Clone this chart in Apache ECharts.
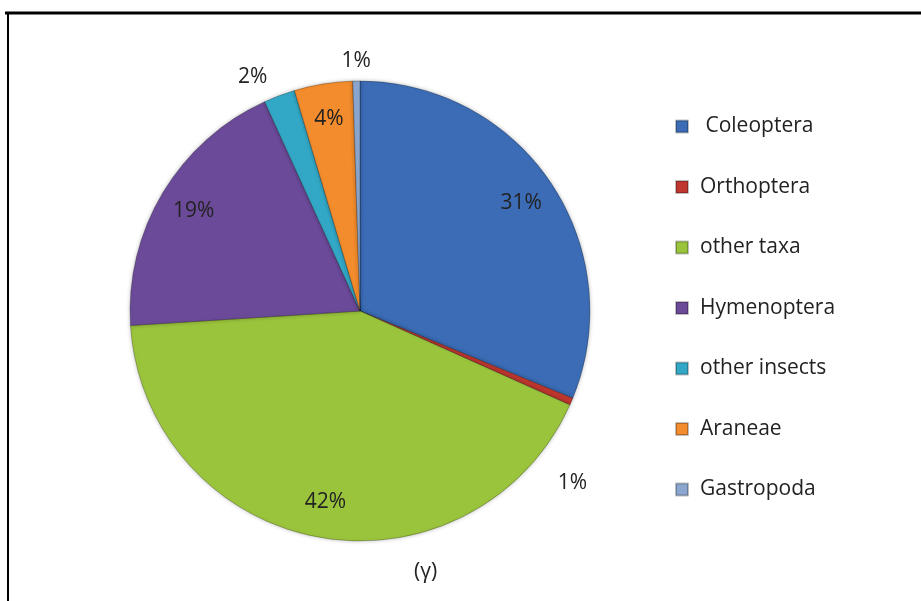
<!DOCTYPE html>
<html>
<head>
<meta charset="utf-8">
<script src="https://cdn.jsdelivr.net/npm/echarts@6/dist/echarts.min.js"></script>
<style>
  html, body { margin: 0; padding: 0; background: #fff; }
  #chart { width: 921px; height: 601px; }
</style>
</head>
<body>
<div id="chart"></div>
<script>
// share of each group, %
const categories = [' Coleoptera', 'Orthoptera', 'other taxa', 'Hymenoptera', 'other insects', 'Araneae', 'Gastropoda']
const shares = [31.2, 0.5, 42.3, 19.2, 2.2, 4.1, 0.5]
const colors = ['#3b6cb5', '#c0372f', '#9bc43d', '#6b4a99', '#33a8c6', '#f28c2c', '#8ba7cf']
// small slices get their label outside the pie
const outsideLabels = ['Orthoptera', 'other insects', 'Gastropoda']
const caption = '(γ)'

const FONT = 'Open Sans'
const pct = (p) => Math.round(p.percent) + '%'

const mainData = categories.map((name, i) => ({
  name,
  value: shares[i],
  itemStyle: { color: colors[i] },
  label: { show: outsideLabels.includes(name) }
}))

const labelData = categories.map((name, i) => ({
  name,
  value: shares[i],
  label: { show: !outsideLabels.includes(name) }
}))

const chart = echarts.init(document.getElementById('chart'))

chart.setOption({
  backgroundColor: '#fff',
  animation: false,
  legend: {
    orient: 'vertical',
    left: 670,
    top: 111,
    itemWidth: 12,
    itemHeight: 12,
    itemGap: 39.5,
    icon: 'rect',
    data: categories,
    textStyle: {
      fontFamily: FONT,
      fontSize: 21,
      color: '#222',
      lineHeight: 20,
      padding: [0, 0, 0, 7]
    }
  },
  graphic: [
    { type: 'line', shape: { x1: 5, y1: 13, x2: 921, y2: 13 }, style: { stroke: '#000', lineWidth: 3 } },
    { type: 'line', shape: { x1: 8, y1: 12, x2: 8, y2: 601 }, style: { stroke: '#000', lineWidth: 2 } },
    {
      type: 'text', left: 414, top: 562,
      style: { text: caption, font: '21px "' + FONT + '"', fill: '#222' }
    }
  ],
  series: [
    {
      type: 'pie',
      center: [360, 311],
      radius: 230,
      startAngle: 90,
      clockwise: true,
      avoidLabelOverlap: false,
      itemStyle: {
        borderColor: 'rgba(0,0,0,0.25)',
        borderWidth: 1,
        shadowBlur: 4,
        shadowColor: 'rgba(0,0,0,0.25)'
      },
      emphasis: { disabled: true },
      label: {
        position: 'outside',
        formatter: pct,
        fontFamily: FONT,
        fontSize: 21,
        color: '#222'
      },
      labelLine: { show: false, length: 20, length2: 0 },
      labelLayout: (p) => {
        if (p.dataIndex === 1) return { dx: -37, dy: 73 }
        if (p.dataIndex === 6) return { align: 'center', dx: 5 }
        return {}
      },
      data: mainData
    },
    {
      // transparent ring that carries the inside labels at ~0.83 of the radius
      type: 'pie',
      center: [360, 311],
      radius: [150, 232],
      startAngle: 90,
      clockwise: true,
      silent: true,
      avoidLabelOverlap: false,
      itemStyle: { color: 'rgba(0,0,0,0)' },
      label: {
        position: 'inside',
        formatter: pct,
        fontFamily: FONT,
        fontSize: 21,
        color: '#222'
      },
      labelLine: { show: false },
      data: labelData
    }
  ]
})
</script>
</body>
</html>
